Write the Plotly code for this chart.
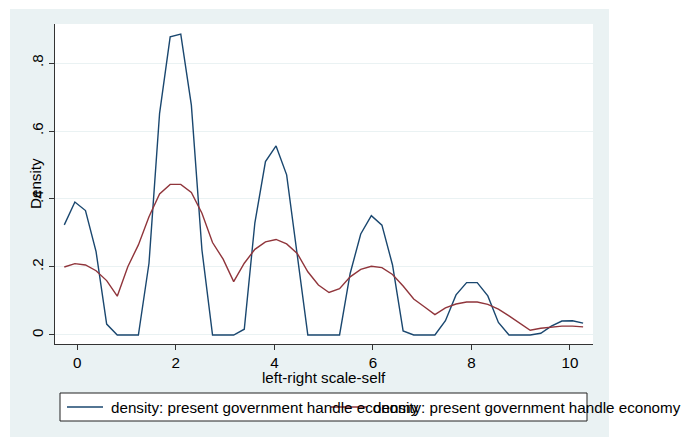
import plotly.graph_objects as go

# evaluation grid (left-right scale-self)
x_grid = [-0.264, -0.049, 0.166, 0.381, 0.596, 0.811, 1.025, 1.240, 1.455, 1.670,
          1.885, 2.100, 2.315, 2.530, 2.745, 2.960, 3.174, 3.389, 3.604, 3.819,
          4.034, 4.249, 4.464, 4.679, 4.894, 5.109, 5.323, 5.538, 5.753, 5.968,
          6.183, 6.398, 6.613, 6.828, 7.043, 7.258, 7.472, 7.687, 7.902, 8.117,
          8.332, 8.547, 8.762, 8.977, 9.192, 9.407, 9.621, 9.836, 10.051, 10.266]

density_blue = [0.324, 0.391, 0.366, 0.245, 0.032, 0.0, 0.0, 0.0, 0.211, 0.652,
                0.877, 0.885, 0.676, 0.250, 0.0, 0.0, 0.0, 0.017, 0.330, 0.510,
                0.556, 0.471, 0.235, 0.0, 0.0, 0.0, 0.0, 0.181, 0.297, 0.351,
                0.323, 0.206, 0.012, 0.0, 0.0, 0.0, 0.042, 0.118, 0.154, 0.154,
                0.115, 0.037, 0.0, 0.0, 0.0, 0.005, 0.026, 0.041, 0.042, 0.035]

density_red = [0.200, 0.210, 0.206, 0.189, 0.160, 0.114, 0.201, 0.265, 0.348, 0.415,
               0.443, 0.443, 0.419, 0.358, 0.272, 0.223, 0.157, 0.211, 0.252, 0.274,
               0.281, 0.268, 0.240, 0.186, 0.147, 0.125, 0.136, 0.171, 0.193, 0.202,
               0.198, 0.178, 0.144, 0.106, 0.083, 0.060, 0.080, 0.091, 0.097, 0.097,
               0.090, 0.076, 0.056, 0.034, 0.014, 0.020, 0.024, 0.026, 0.026, 0.024]

series_names = ["density: present government handle economy",
                "density: present government handle economy"]
y_tickvals = [0, 0.2, 0.4, 0.6, 0.8]
y_ticktext = ["0", ".2", ".4", ".6", ".8"]
x_tickvals = [0, 2, 4, 6, 8, 10]
x_ticktext = ["0", "2", "4", "6", "8", "10"]

BLUE = "#1A476F"
RED = "#90353B"
BG = "#EAF2F3"
AXIS = "#333333"
FONT = "Liberation Sans, Arial, sans-serif"
FS = 15.2

W, H = 683, 437
L, R, T, B = 55, 593, 24, 344  # plot area in px
pw, ph = R - L, B - T


def px(xp):
    return (xp - L) / pw


def py(yp):
    return (B - yp) / ph


fig = go.Figure()
fig.add_trace(go.Scatter(x=x_grid, y=density_blue, mode="lines",
                         line=dict(color=BLUE, width=1.4), name=series_names[0],
                         showlegend=False))
fig.add_trace(go.Scatter(x=x_grid, y=density_red, mode="lines",
                         line=dict(color=RED, width=1.4), name=series_names[1],
                         showlegend=False))

shapes = [
    dict(type="rect", xref="paper", yref="paper", x0=px(10), x1=px(609), y0=py(437), y1=py(9),
         fillcolor=BG, line=dict(width=0), layer="below"),
    dict(type="rect", xref="paper", yref="paper", x0=0, x1=1, y0=0, y1=1,
         fillcolor="white", line=dict(width=0), layer="below"),
    # legend box
    dict(type="rect", xref="paper", yref="paper", x0=px(60), x1=px(587), y0=py(421), y1=py(393),
         fillcolor="white", line=dict(color="#222222", width=1), layer="above"),
    dict(type="line", xref="paper", yref="paper", x0=px(67), x1=px(103), y0=py(407), y1=py(407),
         line=dict(color=BLUE, width=1.4), layer="above"),
    dict(type="line", xref="paper", yref="paper", x0=px(331), x1=px(367), y0=py(407), y1=py(407),
         line=dict(color=RED, width=1.4), layer="above"),
]

annotations = [
    dict(text=series_names[0], xref="paper", yref="paper", x=px(109), y=py(407),
         xanchor="left", yanchor="middle", showarrow=False,
         font=dict(family=FONT, size=FS, color="black")),
    dict(text=series_names[1], xref="paper", yref="paper", x=px(371), y=py(407),
         xanchor="left", yanchor="middle", showarrow=False,
         font=dict(family=FONT, size=FS, color="black")),
    dict(text="left-right scale-self", xref="paper", yref="paper", x=px(324), y=py(377),
         xanchor="center", yanchor="middle", showarrow=False,
         font=dict(family=FONT, size=FS, color="black")),
    dict(text="Density", xref="paper", yref="paper", x=px(35), y=0.5, textangle=-90,
         xanchor="center", yanchor="middle", showarrow=False,
         font=dict(family=FONT, size=FS, color="black")),
]

fig.update_layout(
    width=W, height=H,
    margin=dict(l=L, r=W - R, t=T, b=H - B, pad=0),
    paper_bgcolor="white",
    plot_bgcolor="rgba(0,0,0,0)",
    shapes=shapes,
    annotations=annotations,
    showlegend=False,
    font=dict(family=FONT, size=FS, color="black"),
    xaxis=dict(range=[-0.4526, 10.467], tickvals=x_tickvals, ticktext=x_ticktext,
               showgrid=False, zeroline=False, showline=True, linecolor=AXIS,
               linewidth=1, ticks="outside", ticklen=5, tickcolor=AXIS,
               tickfont=dict(family=FONT, size=FS, color="black")),
    yaxis=dict(range=[-0.0265, 0.9147], tickvals=y_tickvals, ticktext=y_ticktext,
               showgrid=True, gridcolor=BG, gridwidth=1, zeroline=False,
               showline=True, linecolor=AXIS, linewidth=1, ticks="outside",
               ticklen=5, tickcolor=AXIS, tickangle=-90,
               tickfont=dict(family=FONT, size=FS, color="black")),
)

fig.write_html("out.html", config={"displayModeBar": False},
               post_script="document.body.style.margin='0';document.body.style.overflow='hidden';")
